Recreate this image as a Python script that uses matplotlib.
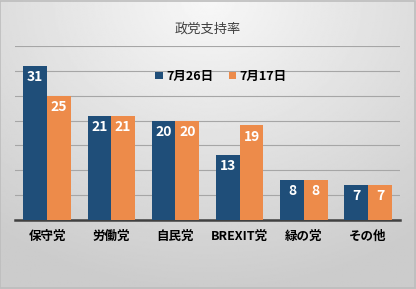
import numpy as np
import matplotlib.pyplot as plt

plt.rcParams['font.family'] = ['Noto Sans CJK JP', 'DejaVu Sans']

# data
parties = ['保守党', '労働党', '自民党', 'BREXIT党', '緑の党', 'その他']
jul26 = [31, 21, 20, 13, 8, 7]
jul17 = [25, 21, 20, 19, 8, 7]
series_names = ['7月26日', '7月17日']

BLUE = '#1F4E79'
ORANGE = '#ED8B4A'

fig = plt.figure(figsize=(4.16, 2.89), dpi=100)

# gradient background (light at top centre, darker grey at bottom)
bg = fig.add_axes([0, 0, 1, 1], zorder=-10)
yy, xx = np.mgrid[0:1:200j, 0:1:300j]
r = np.sqrt(((xx - 0.5) * 1.2) ** 2 + (yy * 1.0) ** 2)
shade = 0.97 - 0.17 * np.clip(r, 0, 1)
bg.imshow(shade, cmap='gray', vmin=0, vmax=1, aspect='auto', extent=[0, 1, 0, 1], origin='upper')
bg.set_xlim(0, 1)
bg.set_ylim(0, 1)
bg.axis('off')
bg.add_patch(plt.Rectangle((0.001, 0.002), 0.997, 0.995, fill=False, edgecolor='#BDBDBD', lw=1.2))

ax = fig.add_axes([0.036, 0.239, 0.926, 0.602])
ax.patch.set_alpha(0)

x = np.arange(len(parties))
w = 0.37
b1 = ax.bar(x - w / 2, jul26, w, color=BLUE, label=series_names[0], zorder=3)
b2 = ax.bar(x + w / 2, jul17, w, color=ORANGE, label=series_names[1], zorder=3)

for bars in (b1, b2):
    for rect in bars:
        h = rect.get_height()
        ax.annotate(f'{h:.0f}', (rect.get_x() + rect.get_width() / 2, h),
                    xytext=(0, -3), textcoords='offset points', ha='center', va='top',
                    color='white', fontsize=10, fontweight='bold', zorder=4)

ax.set_xlim(-0.5, len(parties) - 0.5)
ax.set_ylim(0, 35)
ax.set_yticks(np.arange(0, 36, 5))
ax.set_yticklabels([])
ax.tick_params(axis='y', length=0)
ax.grid(axis='y', color='#A6A6A6', lw=0.8, zorder=0)
ax.set_xticks(x)
ax.set_xticklabels(parties, fontsize=9, fontweight='bold')
ax.tick_params(axis='x', length=0, pad=7)
for s in ['top', 'right', 'left']:
    ax.spines[s].set_visible(False)
ax.spines['bottom'].set_color('#404040')
ax.spines['bottom'].set_linewidth(1.8)

fig.text(0.5, 0.9, '政党支持率', ha='center', va='center', fontsize=9.5, color='#404040')
leg = ax.legend(loc='center', bbox_to_anchor=(0.535, 0.825), ncol=2, frameon=False,
                handlelength=0.6, handleheight=0.6, handletextpad=0.3, columnspacing=1.2,
                prop={'size': 9, 'weight': 'bold'})

fig.savefig('out.png', dpi=100)
